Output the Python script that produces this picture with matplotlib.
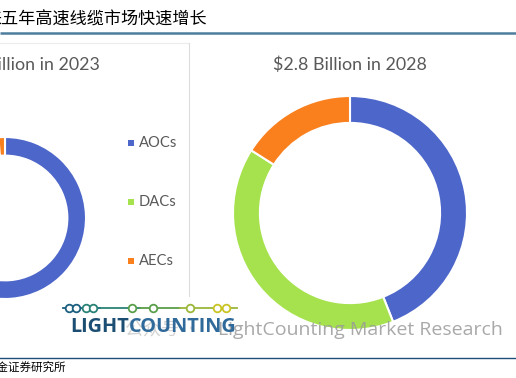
import matplotlib
matplotlib.use('Agg')
import matplotlib.pyplot as plt

plt.rcParams['font.family'] = ['Lato', 'Noto Sans CJK SC', 'DejaVu Sans']

# market mix (share of revenue, %)
segments = ['AOCs', 'DACs', 'AECs']
colors = ['#4d66c9', '#a5e24d', '#fa801e']
share_2023 = [97.5, 1.2, 1.3]
share_2028 = [44, 40, 16]
title_2023 = '$1.2 Billion in 2023'
title_2028 = '$2.8 Billion in 2028'

header = '来五年高速线缆市场快速增长'
source = '国金证券研究所'

W, H = 516, 378
fig = plt.figure(figsize=(W / 100, H / 100), dpi=100)


def px_axes(cx, cy, r):
    # axes box in pixel coords -> figure fraction
    return fig.add_axes([(cx - r) / W, (H - cy - r) / H, 2 * r / W, 2 * r / H])


def donut(ax, vals):
    ax.pie(vals, colors=colors, startangle=90, counterclock=False,
           wedgeprops=dict(width=0.23, edgecolor='white', linewidth=1.5))
    ax.set_xlim(-1, 1)
    ax.set_ylim(-1, 1)
    ax.set_aspect('equal')
    ax.axis('off')


ax_l = px_axes(5, 218, 81)
donut(ax_l, share_2023)
ax_r = px_axes(350, 213, 117)
donut(ax_r, share_2028)

# overlay for text / decoration in pixel coords
ov = fig.add_axes([0, 0, 1, 1])
ov.set_xlim(0, W)
ov.set_ylim(H, 0)
ov.axis('off')
ov.patch.set_alpha(0)

ov.text(-16, 20, header, fontsize=12.3, color='black', va='center', ha='left',
        family=['Noto Sans CJK SC'])
ov.plot([0, W], [33, 33], color='#4f7d9e', lw=1.8, solid_capstyle='butt')

# panel lines
ov.plot([0, 189], [43, 43], color='#ececec', lw=0.8)
ov.plot([189, 189], [43, 296], color='#dcdcdc', lw=0.8)

ov.text(100, 65, title_2023, fontsize=12.9, color='#595959', ha='right', va='center')
ov.text(350, 65, title_2028, fontsize=12.9, color='#595959', ha='center', va='center')

# legend
for i, (lab, c) in enumerate(zip(segments, colors)):
    y = 143 + i * 59
    ov.scatter([131], [y], marker='s', s=24, color=c, linewidths=0)
    ov.text(139, y, lab, fontsize=10.6, color='#595959', va='center', ha='left')

# watermark
ov.text(125, 330, '公众号 ·', fontsize=13, color='#c8c8c8', va='center', ha='left',
        family=['Noto Sans CJK SC'], alpha=0.8)
ov.text(503, 330, 'LightCounting Market Research', fontsize=14, color='#9a9a9a',
        va='center', ha='right', family=['Open Sans'], alpha=0.85)

# logo
dots = [69, 76, 86, 93, 132, 153, 190, 217, 226]
seg_x = [63, 100, 140, 180, 237]
seg_c = ['#1b5f80', '#2a8277', '#5a9e4a', '#9bb83a', '#c9c424']
for i in range(len(seg_x) - 1):
    ov.plot(seg_x[i:i + 2], [308, 308], color=seg_c[i], lw=1.3)
for x in dots:
    frac = (x - 63) / (237 - 63)
    c = seg_c[min(int(frac * (len(seg_c) - 1) + 0.5), len(seg_c) - 1)]
    ov.scatter([x], [308], s=30, facecolor='white', edgecolor=c, linewidths=1.3, zorder=5)
t = ov.text(70, 327, 'LIGHT', fontsize=14.3, fontweight='bold', color='#1c4e73',
            va='center', ha='left', family=['Open Sans'])
fig.canvas.draw()
bb = t.get_window_extent()
ov.text(70 + bb.width, 327, 'COUNTING', fontsize=14.3, fontweight='bold',
        color='#2f6a9a', va='center', ha='left', family=['Open Sans'])

# footer
ov.plot([0, W], [358, 358], color='#1f4e79', lw=1.0)
ov.text(-15, 367, source, fontsize=8.3, color='black', va='center', ha='left',
        family=['Noto Sans CJK SC'])

fig.savefig('out.png', dpi=100)
